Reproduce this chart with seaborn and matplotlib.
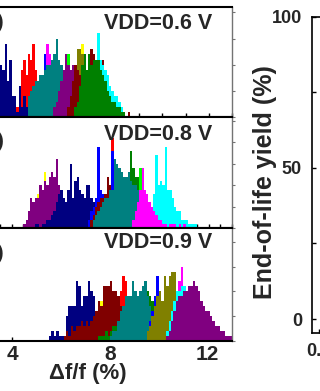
import numpy as np
import pandas as pd
import matplotlib
matplotlib.use("Agg")
import matplotlib.pyplot as plt
import seaborn as sns
from matplotlib.ticker import MultipleLocator, FixedLocator

sns.set_style("white")
plt.rcParams["font.family"] = ["Liberation Sans", "DejaVu Sans"]
plt.rcParams["font.weight"] = "bold"
plt.rcParams["axes.labelweight"] = "bold"

BIN = 0.1  # histogram bin width, % of frequency shift

NAVY, BLUE, RED, MAGENTA = "#000080", "#0000FF", "#FF0000", "#FF00FF"
TEAL, PURPLE, LIME, YELLOW = "#008080", "#800080", "#00FF00", "#FFFF00"
OLIVE, MAROON, GREEN, CYAN = "#808000", "#800000", "#008000", "#00FFFF"

# ---- VDD = 0.6 V : first bin edge and counts per 0.1 % bin ----
v06_red_start, v06_red = 3.7, [2, 6, 9, 11, 8, 12, 11, 14, 9, 4, 2, 1]
v06_navy_start, v06_navy = 2.3, [2, 3, 4, 6, 7, 9, 8, 10, 9, 14, 7, 11, 4, 4, 1,
                                 6, 2, 4, 2, 1, 1, 2, 1]
v06_blue_start, v06_blue = 4.3, [2, 6, 5, 4, 7, 8, 12, 9, 6, 3, 2]
v06_magenta_start, v06_magenta = 4.6, [3, 6, 8, 9, 14, 12, 9, 7, 5, 3, 2, 1]
v06_teal_start, v06_teal = 4.2, [4, 5, 6, 7, 7, 8, 8, 9, 10, 10, 11, 12, 15, 11, 10,
                                 9, 8, 7, 6, 5, 3, 2, 2, 1, 1]
v06_lime_start, v06_lime = 5.6, [2, 4, 6, 12, 7, 4, 2, 1]
v06_purple_start, v06_purple = 5.3, [2, 3, 5, 7, 9, 12, 10, 9, 10, 9, 7, 5, 3, 2, 1]
v06_yellow_start, v06_yellow = 6.2, [3, 5, 9, 14, 9, 5, 2]
v06_olive_start, v06_olive = 6.0, [3, 5, 8, 13, 13, 12, 11, 8, 5, 3, 2, 1]
v06_maroon_start, v06_maroon = 5.9, [2, 4, 7, 10, 9, 8, 8, 8, 9, 10, 13, 12, 9, 8, 8,
                                     11, 5, 3, 2, 1, 0, 0, 0, 0, 0, 0, 1]
v06_cyan_start, v06_cyan = 6.8, [2, 4, 7, 10, 16, 11, 10, 9, 8, 6, 5, 4, 4, 3, 2, 1]
v06_green_start, v06_green = 6.2, [2, 3, 6, 10, 12, 9, 12, 10, 11, 11, 11, 9, 8, 7, 5,
                                   4, 3, 3, 2, 2, 1, 1]

# ---- VDD = 0.8 V ----
v08_yellow_start, v08_yellow = 4.3, [2, 4, 6, 8, 9, 8, 13, 9, 6, 3, 1]
v08_purple_start, v08_purple = 4.0, [1, 2, 4, 7, 6, 7, 7, 10, 9, 11, 10, 12, 13, 12,
                                     16, 10, 6, 4, 3, 2, 1]
v08_navy_start, v08_navy = 4.5, [1, 1, 0, 1, 1, 2, 2, 3, 4, 6, 8, 9, 7, 6, 9, 15, 7,
                                 11, 12, 9, 8, 7, 10, 10, 7, 6, 6, 5, 3, 2, 1, 1, 1]
v08_red_start, v08_red = 7.4, [3, 5, 7, 9, 21, 10, 9, 14, 9, 6, 4, 2, 1]
v08_blue_start, v08_blue = 6.8, [2, 4, 5, 7, 19, 9, 8, 8, 9, 8, 18, 8, 5, 3, 2, 1]
v08_maroon_start, v08_maroon = 6.9, [2, 3, 5, 6, 7, 7, 8, 12, 10, 9, 9, 10, 7, 5, 3,
                                     2, 1]
v08_green_start, v08_green = 8.1, [2, 4, 6, 9, 10, 18, 14, 12, 12, 11, 10, 9, 7, 5,
                                   3, 2, 2, 1]
v08_lime_start, v08_lime = 8.7, [3, 6, 8, 14, 6, 3, 1]
v08_teal_start, v08_teal = 7.0, [2, 3, 4, 5, 6, 7, 7, 9, 9, 16, 15, 14, 13, 12, 12,
                                 13, 11, 10, 10, 9, 9, 8, 6, 5, 4, 3, 2, 1]
v08_cyan_start, v08_cyan = 9.3, [2, 3, 5, 8, 17, 10, 11, 10, 19, 9, 9, 7, 5, 4, 4,
                                 2, 2, 2, 1, 1, 1, 1]
v08_magenta_start, v08_magenta = 8.7, [2, 4, 6, 9, 14, 9, 8, 6, 5, 4, 3, 2, 2, 1, 1,
                                       0, 1, 1, 1, 0, 1, 0, 1]

# ---- VDD = 0.9 V ----
v09_navy_start, v09_navy = 5.5, [1, 2, 1, 2, 1, 1, 1, 5, 7, 7, 7, 12, 11, 7, 9, 9,
                                 12, 10, 9, 6, 4, 2, 1]
v09_yellow_start, v09_yellow = 7.2, [2, 4, 6, 6, 8, 5, 3, 1]
v09_red_start, v09_red = 8.1, [3, 5, 8, 10, 13, 12, 8, 5, 3, 1]
v09_maroon_start, v09_maroon = 6.1, [1, 2, 1, 3, 2, 3, 3, 4, 3, 4, 3, 4, 5, 6, 8, 7,
                                     11, 11, 11, 12, 10, 10, 9, 7, 4, 3, 2, 1]
v09_green_start, v09_green = 7.5, [1, 1, 1, 2, 1, 2, 3, 3, 4, 5, 6, 7, 7, 8, 8, 8, 9,
                                   9, 10, 9, 10, 9, 8, 7, 6, 5, 4, 3, 2, 2, 1, 1, 1]
v09_teal_start, v09_teal = 8.0, [1, 2, 2, 4, 6, 7, 9, 9, 9, 12, 10, 9, 10, 11, 12, 9,
                                 7, 5, 2, 1]
v09_blue_start, v09_blue = 9.5, [2, 4, 6, 9, 13, 9, 6, 3, 1]
v09_olive_start, v09_olive = 9.5, [2, 3, 5, 7, 9, 10, 8, 13, 11, 13, 14, 14, 9, 8, 5,
                                   3, 2, 1]
v09_magenta_start, v09_magenta = 10.5, [4, 6, 9, 12, 15, 10, 8, 7, 6, 5, 5, 4, 3, 3,
                                        2, 2, 1, 1, 1, 1]
v09_cyan_start, v09_cyan = 10.3, [2, 4, 6, 8, 10, 10, 11, 11, 10, 8, 6, 4, 2, 1]
v09_purple_start, v09_purple = 10.3, [1, 2, 4, 6, 8, 9, 9, 10, 10, 11, 11, 12, 11, 10,
                                      8, 7, 6, 6, 5, 4, 3, 3, 2, 2, 1, 1, 1]

# Right panel axis values
yield_ticks = [0, 50, 100]
yield_minor = [25, 75]
vdd_tick = [0.6]
vdd_tick_labels = ["0.6"]

# Layers in drawing order (later ones on top)
layers_06 = [(RED, v06_red_start, v06_red), (NAVY, v06_navy_start, v06_navy),
             (BLUE, v06_blue_start, v06_blue), (MAGENTA, v06_magenta_start, v06_magenta),
             (TEAL, v06_teal_start, v06_teal), (LIME, v06_lime_start, v06_lime),
             (PURPLE, v06_purple_start, v06_purple), (YELLOW, v06_yellow_start, v06_yellow),
             (OLIVE, v06_olive_start, v06_olive), (MAROON, v06_maroon_start, v06_maroon),
             (CYAN, v06_cyan_start, v06_cyan), (GREEN, v06_green_start, v06_green)]
layers_08 = [(YELLOW, v08_yellow_start, v08_yellow), (PURPLE, v08_purple_start, v08_purple),
             (NAVY, v08_navy_start, v08_navy), (RED, v08_red_start, v08_red),
             (BLUE, v08_blue_start, v08_blue), (MAROON, v08_maroon_start, v08_maroon),
             (GREEN, v08_green_start, v08_green), (LIME, v08_lime_start, v08_lime),
             (TEAL, v08_teal_start, v08_teal), (CYAN, v08_cyan_start, v08_cyan),
             (MAGENTA, v08_magenta_start, v08_magenta)]
layers_09 = [(NAVY, v09_navy_start, v09_navy), (YELLOW, v09_yellow_start, v09_yellow),
             (RED, v09_red_start, v09_red), (MAROON, v09_maroon_start, v09_maroon),
             (GREEN, v09_green_start, v09_green), (TEAL, v09_teal_start, v09_teal),
             (BLUE, v09_blue_start, v09_blue), (OLIVE, v09_olive_start, v09_olive),
             (MAGENTA, v09_magenta_start, v09_magenta), (CYAN, v09_cyan_start, v09_cyan),
             (PURPLE, v09_purple_start, v09_purple)]

W, H = 320, 391
fig = plt.figure(figsize=(W / 100, H / 100), dpi=100)


def frame(px_left, px_top, px_right, px_bottom):
    return [px_left / W, 1 - px_bottom / H, (px_right - px_left) / W,
            (px_bottom - px_top) / H]


panels = [
    dict(layers=layers_06, top=7.0, bottom=117.3, ymax=21.0, xlim=(1.5, 13.0),
         step=1.0, vdd="VDD=0.6 V", tag="(a)", vy=0.846, ty=0.855),
    dict(layers=layers_08, top=117.3, bottom=228.3, ymax=25.8, xlim=(1.5, 13.0),
         step=0.5, vdd="VDD=0.8 V", tag="(b)", vy=0.845, ty=0.782),
    dict(layers=layers_09, top=228.3, bottom=340.7, ymax=22.75, xlim=(2.07, 13.0),
         step=None, vdd="VDD=0.9 V", tag="(c)", vy=0.874, ty=0.78),
]

for i, p in enumerate(panels):
    ax = fig.add_axes(frame(-34.8, p["top"], 232.0, p["bottom"]))
    for color, start, counts in p["layers"]:
        n = len(counts)
        edges = [round(start + BIN * k, 2) for k in range(n + 1)]
        df = pd.DataFrame({"shift": start + BIN * (np.arange(n) + 0.5),
                           "count": np.asarray(counts, dtype=float)})
        sns.histplot(data=df, x="shift", weights="count", bins=edges,
                     element="step", fill=True, color=color, alpha=1,
                     linewidth=0, ax=ax)
    ax.set_xlim(*p["xlim"])
    ax.set_ylim(0, p["ymax"])
    ax.set_xlabel("")
    ax.set_ylabel("")
    for side in ["top", "bottom", "left"]:
        ax.spines[side].set_color("black")
        ax.spines[side].set_linewidth(1.5)
    ax.spines["right"].set_color("0.45")
    ax.spines["right"].set_linewidth(1.0)
    ax.yaxis.set_major_locator(MultipleLocator(5))
    ax.tick_params(axis="y", left=False, right=True, labelleft=False,
                   labelright=False, direction="out", length=2, width=0.8,
                   color="0.45")
    if p["step"] is not None:
        ax.xaxis.set_major_locator(MultipleLocator(p["step"]))
        ax.tick_params(axis="x", bottom=True, top=False, labelbottom=False,
                       direction="in", length=3, width=1, color="black")
    else:
        ax.xaxis.set_major_locator(FixedLocator([4, 8, 12]))
        ax.set_xticklabels(["4", "8", "12"])
        ax.tick_params(axis="x", bottom=True, top=False, labelbottom=True,
                       direction="in", length=3, width=1, color="black",
                       labelsize=15, pad=3)
        ax.set_xlabel("\u0394f/f (%)", fontsize=16, fontweight="bold")
        ax.xaxis.set_label_coords(0.46, -0.2)
    ax.text(0.925, p["vy"], p["vdd"], transform=ax.transAxes, ha="right",
            va="center", fontsize=15.5, fontweight="bold")
    ax.text(0.145, p["ty"], p["tag"], transform=ax.transAxes, ha="right",
            va="center", fontsize=15, fontweight="bold")

# End-of-life yield panel (only its left edge falls inside the figure)
axr = fig.add_axes(frame(311.7, 16.7, 465.7, 333.0))
axr.set_xlim(0.58, 1.02)
axr.set_ylim(-4.6, 100)
axr.yaxis.set_major_locator(FixedLocator(yield_ticks))
axr.yaxis.set_minor_locator(FixedLocator(yield_minor))
axr.set_yticklabels([str(t) for t in yield_ticks])
axr.xaxis.set_major_locator(FixedLocator(vdd_tick))
axr.set_xticklabels(vdd_tick_labels)
axr.tick_params(axis="both", which="both", direction="in", length=3, width=1,
                color="black", labelsize=13, pad=7)
axr.tick_params(axis="y", which="both", left=True, right=False)
axr.tick_params(axis="x", which="both", bottom=True, top=False)
for s in axr.spines.values():
    s.set_color("black")
    s.set_linewidth(1.2)
axr.set_ylabel("End-of-life yield (%)", fontsize=18, fontweight="bold")
axr.yaxis.label.set_va("center")
axr.yaxis.set_label_coords(-0.303, 0.477)

fig.savefig("out.png", dpi=100)
